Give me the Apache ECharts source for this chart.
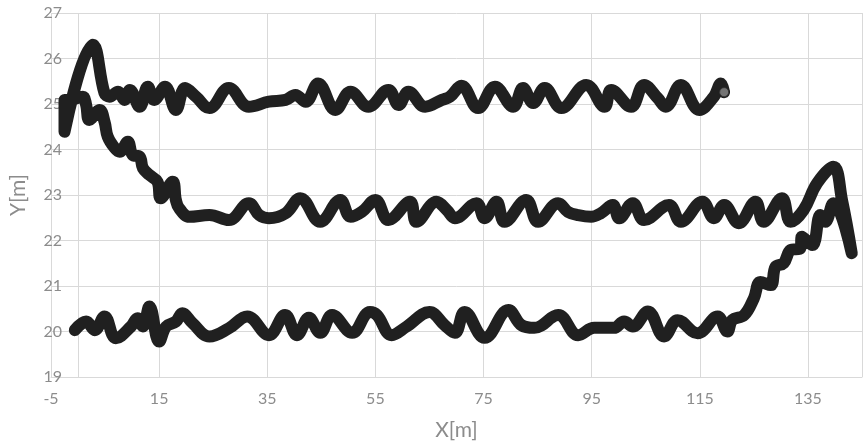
<!DOCTYPE html>
<html><head><meta charset="utf-8">
<script src="https://cdn.jsdelivr.net/npm/echarts@6/dist/echarts.min.js"></script>
<style>html,body{margin:0;padding:0;background:#fff}#c{width:868px;height:446px}</style>
</head><body><div id="c"></div>
<script>
const xTicks = [-5, 15, 35, 55, 75, 95, 115, 135];
const yTicks = [19, 20, 21, 22, 23, 24, 25, 26, 27];
const xTitle = 'X[m]';
const yTitle = 'Y[m]';

// bottom pass, left to right, then ramp up at the right end
const lowerPass = [[-0.6,20.03],[1.5,20.22],[3.1,20.03],[4.9,20.33],[7.0,19.85],[9.8,20.11],[11.0,20.29],[12.0,20.11],[13.2,20.55],[15.0,19.78],[16.3,20.11],[18.1,20.22],[19.3,20.40],[21.2,20.18],[24.3,19.89],[27.9,20.07],[31.3,20.33],[35.3,19.92],[38.3,20.36],[40.5,19.92],[42.7,20.30],[44.8,19.97],[47.0,20.36],[50.7,19.97],[54.0,20.43],[55.3,20.36],[58.0,19.92],[60.8,20.11],[65.0,20.43],[67.8,20.14],[69.7,19.97],[71.5,20.43],[75.2,19.86],[79.6,20.47],[82.0,20.14],[84.4,20.08],[88.8,20.36],[92.5,19.92],[95.5,20.08],[99.1,20.08],[101.0,20.22],[102.6,20.11],[105.4,20.44],[108.4,19.89],[110.9,20.25],[114.6,19.96],[118.3,20.33],[120.1,20.00],[121.0,20.25],[123.2,20.36],[125.0,20.73],[126.2,21.09],[128.1,21.02],[129.0,21.42],[130.5,21.50],[131.8,21.79],[133.6,21.83],[133.9,22.08],[135.8,21.90],[137.3,22.56],[138.2,22.41],[139.7,22.82],[143.1,21.72]];

// middle pass, right to left, then diagonal climb on the left
const middlePass = [[143.1,21.72],[141.3,22.89],[139.7,23.62],[136.7,23.26],[134.2,22.67],[131.8,22.41],[130.2,22.93],[126.8,22.41],[125.3,22.85],[122.2,22.38],[119.5,22.78],[117.6,22.49],[115.5,22.85],[111.5,22.41],[109.3,22.78],[104.7,22.45],[102.6,22.82],[100.1,22.49],[98.9,22.78],[96.7,22.60],[94.9,22.52],[92.4,22.56],[90.6,22.63],[88.8,22.82],[85.1,22.41],[82.9,22.89],[78.9,22.41],[77.4,22.85],[75.2,22.49],[73.7,22.82],[69.7,22.49],[68.2,22.67],[66.3,22.85],[62.6,22.41],[61.4,22.85],[57.4,22.45],[55.0,22.89],[52.5,22.63],[50.4,22.52],[48.5,22.89],[44.8,22.41],[41.1,22.93],[38.4,22.60],[35.3,22.49],[33.5,22.56],[31.6,22.82],[27.9,22.45],[24.3,22.56],[20.6,22.52],[18.7,22.71],[18.1,22.89],[17.5,23.29],[15.3,22.93],[14.7,23.29],[13.2,23.44],[12.0,23.59],[11.4,23.84],[10.1,23.88],[9.2,24.17],[7.7,23.95],[6.8,24.03],[5.5,24.28],[4.9,24.61],[4.0,24.87],[2.1,24.65],[1.5,24.98],[0.9,25.16],[-1.6,25.09],[-2.5,25.09],[-2.5,24.39]];

// upper pass, left to right
const upperPass = [[2.75,26.30],[4.9,25.24],[5.8,25.16],[7.4,25.27],[8.6,25.09],[9.6,25.31],[11.4,24.94],[12.9,25.38],[14.1,25.09],[16.1,25.38],[18.1,24.87],[19.8,25.35],[21.8,25.16],[24.3,24.91],[27.9,25.35],[31.6,24.94],[35.3,25.05],[38.4,25.09],[40.2,25.20],[42.1,25.05],[44.4,25.45],[47.6,24.87],[50.4,25.27],[53.7,24.94],[57.4,25.31],[59.3,24.98],[61.1,25.27],[64.2,24.94],[67.3,25.09],[68.8,25.16],[70.9,25.40],[74.0,24.91],[77.1,25.38],[80.5,24.94],[82.3,25.35],[84.2,25.02],[86.3,25.35],[89.4,24.91],[94.0,25.42],[97.4,24.94],[98.6,25.31],[102.3,24.94],[104.7,25.42],[107.2,25.13],[108.7,24.94],[111.5,25.42],[114.9,24.87],[117.6,25.16],[118.9,25.45],[119.5,25.26]];

const path = lowerPass.concat(middlePass.slice(1), upperPass);
const lastPoint = upperPass[upperPass.length - 1];

const FONT = 'Lato, "Open Sans", sans-serif';
const GRID = '#d9d9d9';
const TXT = '#8c8c8c';

const chart = echarts.init(document.getElementById('c'), null, {renderer: 'canvas'});
chart.setOption({
  animation: false,
  backgroundColor: '#ffffff',
  grid: {left: 48, right: 6, top: 13, bottom: 69, containLabel: false},
  xAxis: {
    type: 'value',
    min: xTicks[0],
    max: 145,
    interval: xTicks[1] - xTicks[0],
    name: xTitle,
    nameLocation: 'middle',
    nameGap: 43,
    nameTextStyle: {fontFamily: FONT, fontSize: 21, color: TXT},
    axisLine: {show: true, onZero: false, lineStyle: {color: GRID, width: 1}},
    axisTick: {show: false},
    axisLabel: {fontFamily: FONT, fontSize: 16, color: TXT, margin: 14, showMaxLabel: false,
      formatter: v => xTicks.includes(v) ? String(v) : ''},
    splitLine: {show: true, lineStyle: {color: GRID, width: 1}}
  },
  yAxis: {
    type: 'value',
    min: yTicks[0],
    max: yTicks[yTicks.length - 1],
    interval: 1,
    name: yTitle,
    nameLocation: 'middle',
    nameGap: 22,
    nameTextStyle: {fontFamily: FONT, fontSize: 21, color: TXT},
    axisLine: {show: false},
    axisTick: {show: false},
    axisLabel: {fontFamily: FONT, fontSize: 16, color: TXT, margin: -11},
    splitLine: {show: true, lineStyle: {color: GRID, width: 1}}
  },
  series: [
    {
      type: 'line',
      data: path,
      smooth: 0.4,
      symbol: 'none',
      lineStyle: {color: '#202020', width: 12, cap: 'round', join: 'round'},
      z: 3,
      markLine: {
        silent: true, symbol: 'none', label: {show: false},
        lineStyle: {color: GRID, type: 'solid', width: 1},
        data: [{xAxis: 0}],
        z: 1
      }
    },
    {
      type: 'scatter',
      data: [lastPoint],
      symbol: 'circle',
      symbolSize: 9,
      itemStyle: {color: '#8a8a8a', borderColor: '#333', borderWidth: 1},
      z: 4
    }
  ]
});
</script>
</body></html>
